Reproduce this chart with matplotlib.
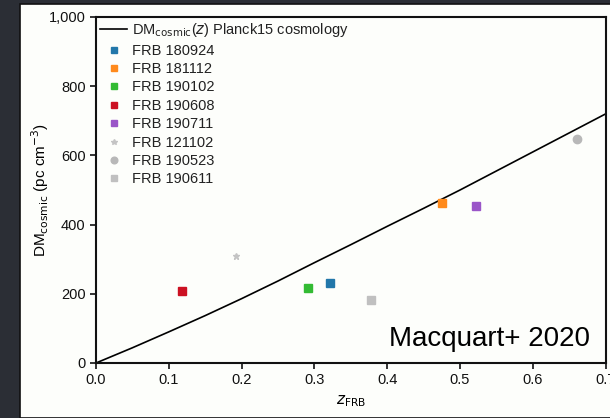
import matplotlib.pyplot as plt
from matplotlib.patches import Rectangle

plt.rcParams['font.family'] = ['Liberation Sans', 'DejaVu Sans']

# DM_cosmic(z) curve, Planck15
z_curve = [0.0, 0.05, 0.1, 0.15, 0.2, 0.25, 0.3, 0.35, 0.4, 0.45, 0.5, 0.55, 0.6, 0.65, 0.7]
dm_curve = [0, 44, 90, 137, 186, 237, 290, 342, 395, 447, 500, 555, 610, 665, 720]

# FRBs
names = ['FRB 180924', 'FRB 181112', 'FRB 190102', 'FRB 190608', 'FRB 190711',
         'FRB 121102', 'FRB 190523', 'FRB 190611']
z_frb = [0.321, 0.4755, 0.291, 0.1178, 0.522, 0.1927, 0.660, 0.378]
dm_frb = [231, 462, 217, 208, 454, 309, 647, 182]
colors = ['#2277aa', '#ff8a1c', '#33bb33', '#cc1122', '#9a55c8',
          '#c4c4c4', '#b8b8b8', '#c0c0c0']
markers = ['s', 's', 's', 's', 's', '*', 'o', 's']
msizes = [5.5, 5.5, 5.5, 5.5, 5.5, 5, 6, 5.5]

fig = plt.figure(figsize=(6.1, 4.18), dpi=100, facecolor='#2b2e35')
bg = Rectangle((20 / 610, 0), 1, 414 / 418, transform=fig.transFigure,
               facecolor='#fdfefb', edgecolor='#111111', linewidth=1.2, zorder=-10)
fig.add_artist(bg)
ax = fig.add_axes([96 / 610, 55 / 418, 510 / 610, 346 / 418])
ax.set_facecolor('#fdfefb')

ax.plot(z_curve, dm_curve, color='black', lw=1.2,
        label=r'DM$_{\rm cosmic}$($z$) Planck15 cosmology')
for n, x, y, c, m, s in zip(names, z_frb, dm_frb, colors, markers, msizes):
    ax.plot([x], [y], linestyle='none', marker=m, color=c, markersize=s, label=n)

ax.set_xlim(0, 0.7005)
ax.set_ylim(0, 1000)
ax.set_xticks([0.0, 0.1, 0.2, 0.3, 0.4, 0.5, 0.6, 0.7])
ax.set_xticklabels(['0.0', '0.1', '0.2', '0.3', '0.4', '0.5', '0.6', '0.7'])
ax.set_yticks([0, 200, 400, 600, 800, 1000])
ax.set_yticklabels(['0', '200', '400', '600', '800', '1,000'])
ax.tick_params(direction='out', length=4, width=1.2, labelsize=10.5, colors='#111111')
for sp in ax.spines.values():
    sp.set_linewidth(1.5)
    sp.set_color('#111111')

ax.set_xlabel(r'$z_{\rm FRB}$', fontsize=11, labelpad=4)
ax.set_ylabel(r'DM$_{\rm cosmic}$ (pc cm$^{-3}$)', fontsize=11, labelpad=-2)

leg = ax.legend(loc='upper left', frameon=False, fontsize=10.5, labelspacing=0.3,
                handlelength=1.8, handletextpad=0.4, borderaxespad=0.1,
                borderpad=0.2, markerscale=0.8)
for t in leg.get_texts():
    t.set_color('#222222')

ax.text(0.969, 0.05, 'Macquart+ 2020', transform=ax.transAxes, ha='right',
        va='baseline', fontsize=20, color='black')

fig.savefig('out.png', dpi=100, facecolor=fig.get_facecolor())
